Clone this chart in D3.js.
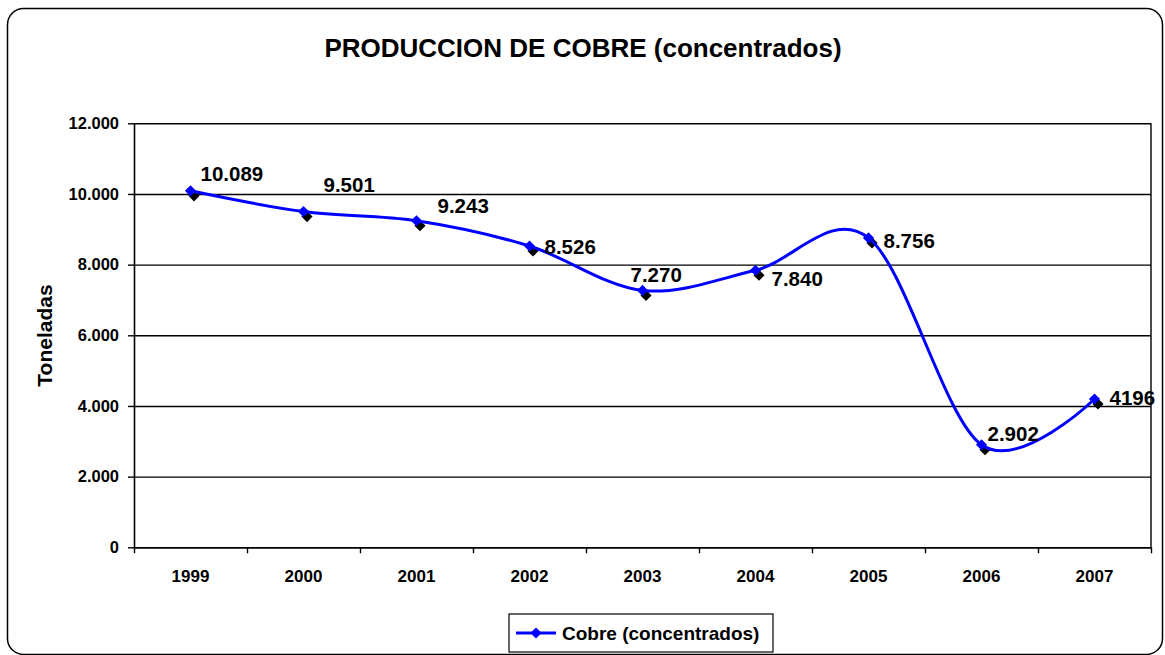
<!DOCTYPE html>
<html>
<head>
<meta charset="utf-8">
<script src="https://cdn.jsdelivr.net/npm/d3@7"></script>
<style>
  body { margin: 0; background: #fff; }
  svg { display: block; font-family: "Liberation Sans", Arial, sans-serif; font-weight: bold; }
</style>
</head>
<body>
<svg width="1165" height="655"></svg>
<script>
// datos
const years = ['1999', '2000', '2001', '2002', '2003', '2004', '2005', '2006', '2007'];
const cobre = [10089, 9501, 9243, 8526, 7270, 7840, 8756, 2902, 4196];
const cobreLabels = ['10.089', '9.501', '9.243', '8.526', '7.270', '7.840', '8.756', '2.902', '4196'];
const yTicks = [0, 2000, 4000, 6000, 8000, 10000, 12000];
const yTickLabels = ['0', '2.000', '4.000', '6.000', '8.000', '10.000', '12.000'];
const seriesName = 'Cobre (concentrados)';

// desplazamiento de las etiquetas (como en el original)
const labelNudge = [[10, -10], [20, -20], [21, -8], [15, 8], [-12, -8], [16, 16], [15, 10], [6, -4], [15, 6]];

const svg = d3.select('svg');
const width = +svg.attr('width');
const height = +svg.attr('height');

const margin = {top: 123.3, right: 14, bottom: 107.7, left: 134};
const innerWidth = width - margin.left - margin.right;
const innerHeight = height - margin.top - margin.bottom;

// marco redondeado
svg.append('rect')
    .attr('x', 7.5).attr('y', 8.5)
    .attr('width', 1155).attr('height', 646)
    .attr('rx', 16)
    .attr('fill', '#fff')
    .attr('stroke', '#000')
    .attr('stroke-width', 1.5);

// titulo
svg.append('text')
    .attr('x', 583).attr('y', 57)
    .attr('text-anchor', 'middle')
    .attr('font-size', 26)
    .text('PRODUCCION DE COBRE (concentrados)');

const xscale = d3.scaleBand()
    .domain(years)
    .range([0, innerWidth]);

const xEdges = d3.scaleLinear()
    .domain([0, years.length])
    .range([0, innerWidth]);

const yscale = d3.scaleLinear()
    .domain([0, 12000])
    .range([innerHeight, 0]);

const g = svg.append('g')
    .attr('transform', `translate(${margin.left}, ${margin.top})`);

// lineas de division
g.append('g')
    .call(d3.axisLeft(yscale).tickValues(yTicks).tickSize(-innerWidth).tickFormat(''))
    .call(a => a.select('.domain').remove())
    .selectAll('line').attr('stroke', '#000').attr('stroke-width', 1.4);

// borde derecho del area
g.append('line')
    .attr('x1', innerWidth).attr('x2', innerWidth)
    .attr('y1', 0).attr('y2', innerHeight)
    .attr('stroke', '#000').attr('stroke-width', 1.4);

// eje y
const yAxis = g.append('g')
    .call(d3.axisLeft(yscale)
        .tickValues(yTicks)
        .tickFormat((d, i) => yTickLabels[i])
        .tickSizeInner(6).tickSizeOuter(0).tickPadding(9));
yAxis.select('.domain').attr('stroke-width', 1.6);
yAxis.selectAll('line').attr('stroke-width', 1.4);
yAxis.selectAll('text')
    .attr('font-size', 16.5)
    .attr('font-family', '"Liberation Sans", Arial, sans-serif')
    .attr('font-weight', 'bold')
    .attr('fill', '#000');

// eje x: marcas en los limites
const xTicks = g.append('g')
    .attr('transform', `translate(0, ${innerHeight})`)
    .call(d3.axisBottom(xEdges).tickValues(d3.range(years.length + 1)).tickFormat('').tickSizeInner(6).tickSizeOuter(0));
xTicks.select('.domain').attr('stroke-width', 1.6);
xTicks.selectAll('line').attr('stroke-width', 1.4);

// eje x: etiquetas
g.append('g')
    .attr('transform', `translate(0, ${innerHeight})`)
    .call(d3.axisBottom(xscale).tickSize(0).tickPadding(23))
    .call(a => a.select('.domain').remove())
    .selectAll('text')
    .attr('font-size', 17)
    .attr('font-family', '"Liberation Sans", Arial, sans-serif')
    .attr('font-weight', 'bold')
    .attr('fill', '#000');

// titulo eje y
svg.append('text')
    .attr('transform', 'translate(52, 335.5) rotate(-90)')
    .attr('text-anchor', 'middle')
    .attr('font-size', 21)
    .text('Toneladas');

const data = years.map((y, i) => ({year: y, value: cobre[i], label: cobreLabels[i], nudge: labelNudge[i]}));
const cx = d => xscale(d.year) + xscale.bandwidth() / 2;
const cy = d => yscale(d.value);

const diamond = d3.symbol().type(d3.symbolSquare).size(62);

// sombra negra de los marcadores
g.selectAll('path.shadow').data(data)
    .enter().append('path')
    .attr('class', 'shadow')
    .attr('d', diamond)
    .attr('transform', d => `translate(${cx(d) + 3.5}, ${cy(d) + 5}) rotate(45)`)
    .attr('fill', '#000');

// linea suavizada
const line = d3.line()
    .x(cx)
    .y(cy)
    .curve(d3.curveCatmullRom.alpha(0));

g.append('path')
    .datum(data)
    .attr('d', line)
    .attr('fill', 'none')
    .attr('stroke', '#0000ff')
    .attr('stroke-width', 3);

g.selectAll('path.marker').data(data)
    .enter().append('path')
    .attr('class', 'marker')
    .attr('d', diamond)
    .attr('transform', d => `translate(${cx(d)}, ${cy(d)}) rotate(45)`)
    .attr('fill', '#0000ff');

// etiquetas de datos
g.selectAll('text.label').data(data)
    .enter().append('text')
    .attr('class', 'label')
    .attr('x', d => cx(d) + d.nudge[0])
    .attr('y', d => cy(d) + d.nudge[1])
    .attr('font-size', 20.5)
    .text(d => d.label);

// leyenda
const legend = svg.append('g').attr('transform', 'translate(509, 614)');
legend.append('rect')
    .attr('width', 264).attr('height', 38)
    .attr('fill', '#fff')
    .attr('stroke', '#000').attr('stroke-width', 1.2);
legend.append('line')
    .attr('x1', 7).attr('x2', 47)
    .attr('y1', 19).attr('y2', 19)
    .attr('stroke', '#0000ff').attr('stroke-width', 3);
legend.append('path')
    .attr('d', diamond)
    .attr('transform', 'translate(27, 19) rotate(45)')
    .attr('fill', '#0000ff');
legend.append('text')
    .attr('x', 53).attr('y', 26)
    .attr('font-size', 19)
    .text(seriesName);
</script>
</body>
</html>
